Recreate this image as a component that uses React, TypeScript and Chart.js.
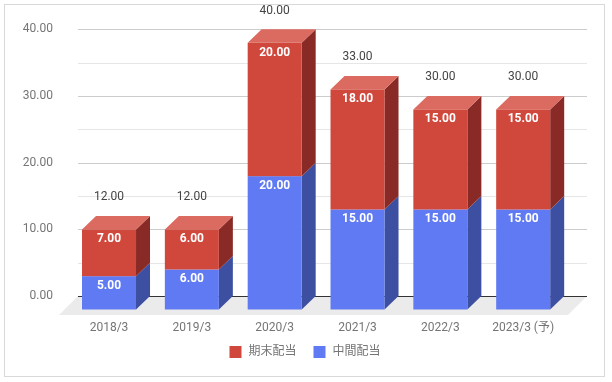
import React, { useEffect, useRef } from 'react';
import { Chart, registerables } from 'chart.js';

Chart.register(...registerables);

// ---- data ----
const categories = ['2018/3', '2019/3', '2020/3', '2021/3', '2022/3', '2023/3 (予)'];
const interimDividend = [5, 6, 20, 15, 15, 15]; // 中間配当
const yearEndDividend = [7, 6, 20, 18, 15, 15]; // 期末配当
const interimName = '中間配当';
const yearEndName = '期末配当';
const legendOrder = [1, 0]; // 期末配当 first
const yMin = 0;
const yMax = 40;
const yStep = 5;
const yLabelStep = 10;

// ---- style ----
const FONT = 'Roboto, "Noto Sans CJK JP", "Noto Sans", sans-serif';
const DX = 14;
const DY = 13.5;
const FLOOR = 19;
const blueFace = { front: '#5f7af2', side: '#3c4fa0', top: '#8c9ff5' };
const redFace = { front: '#d0473c', side: '#8a2a26', top: '#db6b60' };
const faces = [blueFace, redFace];

const fmt = (v: number) => v.toFixed(2);

const bars3d = {
  id: 'bars3d',
  beforeDatasetsDraw(chart: any) {
    const { ctx, chartArea: ca, scales } = chart;
    const ys = scales.y;
    ctx.save();

    // outer border
    ctx.strokeStyle = '#d9d9d9';
    ctx.lineWidth = 1;
    ctx.strokeRect(4.5, 4.5, 600, 372);

    const gl = ca.left - 3.6;
    const gr = ca.right + 8.4;

    // gridlines
    ys.ticks.forEach((t: any) => {
      if (t.value === yMin) return;
      const py = Math.round(ys.getPixelForValue(t.value)) + 0.5;
      ctx.strokeStyle = t.value % yLabelStep === 0 ? '#cccccc' : '#e6e6e6';
      ctx.beginPath();
      ctx.moveTo(gl, py);
      ctx.lineTo(gr, py);
      ctx.stroke();
    });

    // floor
    const y0 = ys.getPixelForValue(yMin);
    ctx.fillStyle = '#ebebeb';
    ctx.beginPath();
    ctx.moveTo(gl, y0);
    ctx.lineTo(gr, y0);
    ctx.lineTo(gr - FLOOR, y0 + FLOOR);
    ctx.lineTo(gl - FLOOR, y0 + FLOOR);
    ctx.closePath();
    ctx.fill();

    // zero line
    ctx.strokeStyle = '#333333';
    ctx.beginPath();
    ctx.moveTo(gl, Math.round(y0) + 0.5);
    ctx.lineTo(gr, Math.round(y0) + 0.5);
    ctx.stroke();

    const metas = chart.data.datasets.map((_: any, i: number) => chart.getDatasetMeta(i));
    const n = chart.data.labels.length;
    const labelsInner: any[] = [];
    const labelsTotal: any[] = [];

    for (let j = 0; j < n; j++) {
      let total = 0;
      let lastTop = 0;
      let cx = 0;
      for (let di = 0; di < metas.length; di++) {
        const el = metas[di].data[j];
        const f = faces[di];
        const { x, y, base, width } = el.getProps(['x', 'y', 'base', 'width'], true);
        const fl = x - width / 2 - DX;
        const fr = x + width / 2 - DX;
        const ft = y + DY;
        const fb = base + DY;
        cx = x - DX;
        // side face
        ctx.fillStyle = f.side;
        ctx.beginPath();
        ctx.moveTo(fr, ft);
        ctx.lineTo(fr + DX, ft - DY);
        ctx.lineTo(fr + DX, fb - DY);
        ctx.lineTo(fr, fb);
        ctx.closePath();
        ctx.fill();
        // top face
        if (di === metas.length - 1) {
          ctx.fillStyle = f.top;
          ctx.beginPath();
          ctx.moveTo(fl, ft);
          ctx.lineTo(fl + DX, ft - DY);
          ctx.lineTo(fr + DX, ft - DY);
          ctx.lineTo(fr, ft);
          ctx.closePath();
          ctx.fill();
        }
        // front face
        ctx.fillStyle = f.front;
        ctx.fillRect(fl, ft, fr - fl, fb - ft);
        const v = chart.data.datasets[di].data[j];
        total += v;
        lastTop = y;
        labelsInner.push({ x: cx, y: ft + 10, t: fmt(v) });
      }
      labelsTotal.push({ x: cx, y: lastTop - 18.5, t: fmt(total) });
    }

    ctx.textAlign = 'center';
    ctx.textBaseline = 'middle';
    ctx.font = `bold 12px ${FONT}`;
    ctx.fillStyle = '#ffffff';
    labelsInner.forEach((l) => ctx.fillText(l.t, l.x, l.y));
    ctx.font = `12px ${FONT}`;
    ctx.fillStyle = '#444444';
    labelsTotal.forEach((l) => ctx.fillText(l.t, l.x, l.y));

    // legend
    ctx.font = `12px ${FONT}`;
    const items = legendOrder.map((i) => ({
      text: chart.data.datasets[i].label,
      color: faces[i].front,
    }));
    const box = 12, gapText = 7, gapItem = 17;
    const widths = items.map((it) => box + gapText + ctx.measureText(it.text).width);
    const totalW = widths.reduce((a, b) => a + b, 0) + gapItem * (items.length - 1);
    let lx = 305 - totalW / 2;
    const ly = 352;
    ctx.textAlign = 'left';
    items.forEach((it, k) => {
      ctx.fillStyle = it.color;
      ctx.fillRect(lx, ly - box / 2, box, box);
      ctx.fillStyle = '#757575';
      ctx.fillText(it.text, lx + box + gapText, ly);
      lx += widths[k] + gapItem;
    });

    ctx.restore();
    return false;
  },
};

export default function App() {
  const ref = useRef<HTMLCanvasElement | null>(null);

  useEffect(() => {
    if (!ref.current) return;
    const chart = new Chart(ref.current, {
      type: 'bar',
      data: {
        labels: categories,
        datasets: [
          { label: interimName, data: interimDividend, backgroundColor: blueFace.front },
          { label: yearEndName, data: yearEndDividend, backgroundColor: redFace.front },
        ],
      },
      options: {
        responsive: false,
        animation: false,
        devicePixelRatio: 1,
        layout: { padding: { top: 29.3, right: 33.4, left: 0, bottom: 0 } },
        datasets: { bar: { categoryPercentage: 1, barPercentage: 0.652 } },
        plugins: { legend: { display: false }, tooltip: { enabled: false } },
        scales: {
          x: {
            stacked: true,
            grid: { display: false, drawTicks: false },
            border: { display: false },
            ticks: {
              color: '#757575',
              font: { family: FONT, size: 12 },
              labelOffset: -DX,
              padding: 24.5,
              maxRotation: 0,
              autoSkip: false,
            },
            afterFit: (s: any) => {
              s.height = 86;
              s.paddingLeft = 0;
              s.paddingRight = 0;
            },
          },
          y: {
            stacked: true,
            min: yMin,
            max: yMax,
            grid: { display: false, drawTicks: false },
            border: { display: false },
            ticks: {
              stepSize: yStep,
              color: '#757575',
              font: { family: FONT, size: 12 },
              padding: 28.6,
              callback: (v: any) => (Number(v) % yLabelStep === 0 ? fmt(Number(v)) : ''),
            },
            afterFit: (s: any) => {
              s.width = 81.6;
              s.paddingTop = 0;
              s.paddingBottom = 0;
            },
          },
        },
      },
      plugins: [bars3d],
    });
    return () => chart.destroy();
  }, []);

  return (
    <div style={{ position: 'absolute', left: 0, top: 0, width: 612, height: 382, background: '#ffffff' }}>
      <canvas ref={ref} width={612} height={382} style={{ display: 'block' }} />
    </div>
  );
}
